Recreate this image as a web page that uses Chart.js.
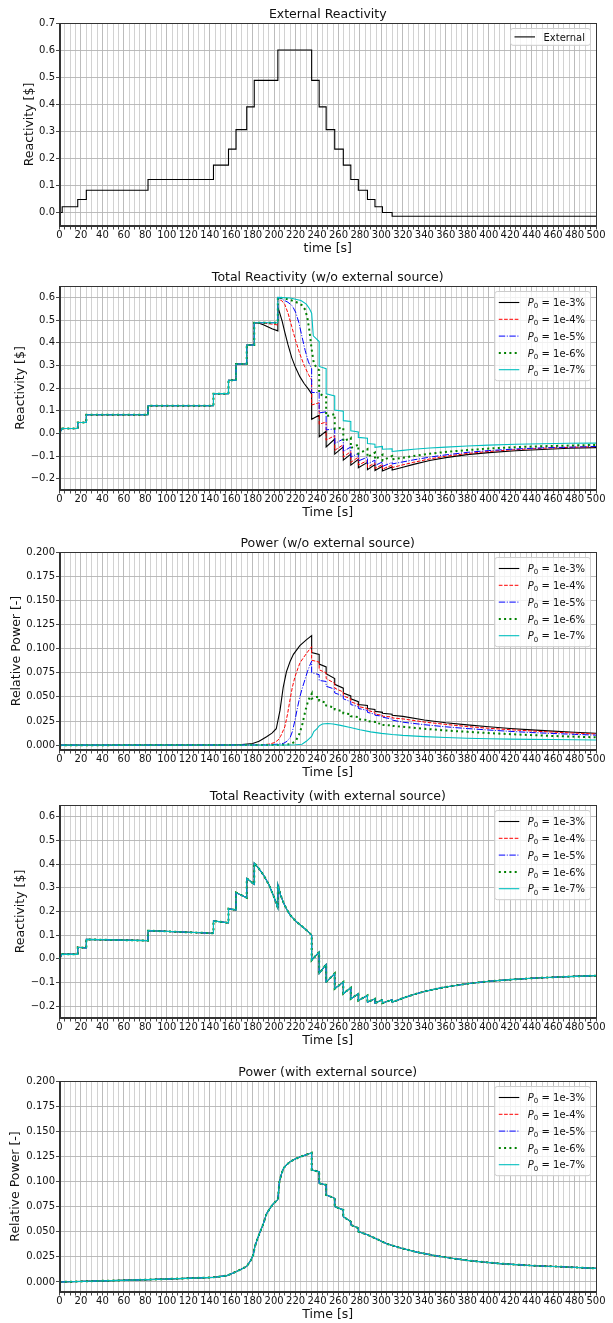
<!DOCTYPE html>
<html>
<head>
<meta charset="utf-8">
<title>Reactivity and power</title>
<script src="https://cdn.jsdelivr.net/npm/chart.js@4.4.1/dist/chart.umd.min.js"></script>
<style>
  html, body { margin: 0; padding: 0; background: #fff; overflow: hidden; }
  body { width: 613px; height: 1323px; position: relative; }
  .panel { position: absolute; left: 0; width: 613px; }
</style>
</head>
<body>
<div class="panel" style="top:5px;height:252px"><canvas id="extChart"></canvas></div>
<div class="panel" style="top:268px;height:253px"><canvas id="rhoNoSrcChart"></canvas></div>
<div class="panel" style="top:534px;height:247px"><canvas id="powNoSrcChart"></canvas></div>
<div class="panel" style="top:787px;height:262px"><canvas id="rhoSrcChart"></canvas></div>
<div class="panel" style="top:1063px;height:260px"><canvas id="powSrcChart"></canvas></div>
<script>
/* ---------------------------------- Ticks --------------------------------- */
const xMajorTicks = [0, 20, 40, 60, 80, 100, 120, 140, 160, 180, 200, 220, 240, 260, 280, 300, 320, 340, 360, 380, 400, 420, 440, 460, 480, 500];
const yTicksExt = [0, 0.1, 0.2, 0.3, 0.4, 0.5, 0.6, 0.7];
const yTicksRho = [-0.2, -0.1, 0, 0.1, 0.2, 0.3, 0.4, 0.5, 0.6];
const yTicksPow = [0, 0.025, 0.05, 0.075, 0.1, 0.125, 0.15, 0.175, 0.2];
const p0Labels = ['1e-3%', '1e-4%', '1e-5%', '1e-6%', '1e-7%'];

/* ----------------------- Panel 1: external reactivity ---------------------- */
const tExt = [0, 2.5, 17, 25, 82.5, 143.5, 157.5, 164.5, 174.5, 181.5, 203.5, 235, 242, 248.5, 256.5, 264.5, 271.5, 278.5, 287, 294, 301, 310, 500];
const rhoExt = [0, 0.021, 0.048, 0.082, 0.122, 0.175, 0.234, 0.306, 0.39, 0.488, 0.6, 0.488, 0.39, 0.306, 0.234, 0.175, 0.122, 0.082, 0.048, 0.021, 0.0, -0.014, -0.014];

/* ---------------- Panel 2: total reactivity, no external source ------------ */
// common part (all five curves follow the external steps up to 181.5 s)
const tPre = [0, 2.5, 17, 17, 25, 25, 82.5, 82.5, 143.5, 143.5, 157.5, 157.5, 164.5, 164.5, 174.5, 174.5, 181.5, 181.5];
const rhoPre = [0, 0.021, 0.021, 0.048, 0.048, 0.082, 0.082, 0.122, 0.122, 0.175, 0.175, 0.234, 0.234, 0.306, 0.306, 0.39, 0.39, 0.488];

const tRho3 = [186, 190, 194, 198, 203.5, 203.5, 205, 207.5, 210, 213, 216.5, 220, 224, 228, 232, 235, 235, 242, 242, 248.5, 248.5, 256.5, 256.5, 264.5, 264.5, 271.5, 271.5, 278.5, 278.5, 287, 287, 294, 294, 301, 301, 310, 310, 320, 330, 345, 360, 380, 400, 425, 450, 475, 500];
const rho3 = [0.486, 0.479, 0.47, 0.461, 0.452, 0.556, 0.535, 0.495, 0.445, 0.39, 0.333, 0.29, 0.25, 0.22, 0.195, 0.174, 0.062, 0.08, -0.015, 0.01, -0.06, -0.025, -0.092, -0.06, -0.118, -0.092, -0.14, -0.115, -0.152, -0.128, -0.16, -0.138, -0.164, -0.145, -0.166, -0.148, -0.162, -0.15, -0.137, -0.12, -0.107, -0.094, -0.085, -0.077, -0.071, -0.066, -0.063];

const tRho4 = [186, 192, 198, 203.5, 203.5, 207, 210, 213, 216.5, 220, 224, 228, 232, 235, 235, 242, 242, 248.5, 248.5, 256.5, 256.5, 264.5, 264.5, 271.5, 271.5, 278.5, 278.5, 287, 287, 294, 294, 301, 301, 310, 310, 320, 330, 345, 360, 380, 400, 425, 450, 475, 500];
const rho4 = [0.487, 0.485, 0.482, 0.478, 0.59, 0.586, 0.568, 0.53, 0.47, 0.41, 0.35, 0.3, 0.26, 0.235, 0.125, 0.135, 0.04, 0.05, -0.03, -0.01, -0.075, -0.05, -0.105, -0.08, -0.128, -0.105, -0.14, -0.12, -0.15, -0.13, -0.155, -0.138, -0.158, -0.14, -0.151, -0.139, -0.128, -0.113, -0.101, -0.089, -0.08, -0.072, -0.066, -0.062, -0.059];

const tRho5 = [203.5, 203.5, 208, 213, 217, 220, 223, 226, 229, 232, 235, 235, 242, 242, 248.5, 248.5, 256.5, 256.5, 264.5, 264.5, 271.5, 271.5, 278.5, 278.5, 287, 287, 294, 294, 301, 301, 310, 310, 320, 330, 345, 360, 380, 400, 425, 450, 475, 500];
const rho5 = [0.488, 0.6, 0.59, 0.578, 0.562, 0.535, 0.49, 0.426, 0.365, 0.315, 0.285, 0.18, 0.18, 0.09, 0.095, 0.015, 0.02, -0.045, -0.025, -0.08, -0.06, -0.105, -0.088, -0.122, -0.105, -0.135, -0.118, -0.142, -0.126, -0.146, -0.128, -0.135, -0.126, -0.117, -0.105, -0.095, -0.084, -0.076, -0.069, -0.064, -0.061, -0.058];

const tRho6 = [203.5, 203.5, 210, 216, 222, 226, 229, 231, 233, 235, 237, 240, 242, 242, 248.5, 248.5, 256.5, 256.5, 264.5, 264.5, 271.5, 271.5, 278.5, 278.5, 287, 287, 294, 294, 301, 301, 310, 310, 320, 330, 345, 360, 380, 400, 425, 450, 475, 500];
const rho6 = [0.488, 0.6, 0.595, 0.587, 0.576, 0.565, 0.545, 0.51, 0.45, 0.37, 0.31, 0.285, 0.278, 0.175, 0.16, 0.075, 0.085, 0.02, 0.025, -0.035, -0.02, -0.065, -0.05, -0.09, -0.07, -0.105, -0.085, -0.115, -0.095, -0.12, -0.1, -0.115, -0.108, -0.1, -0.09, -0.082, -0.074, -0.067, -0.061, -0.057, -0.054, -0.051];

const tRho7 = [203.5, 203.5, 215, 225, 230, 233, 235, 236.5, 242, 242, 248.5, 248.5, 256.5, 256.5, 264.5, 264.5, 271.5, 271.5, 278.5, 278.5, 287, 287, 294, 294, 301, 301, 310, 310, 320, 330, 345, 360, 380, 400, 425, 450, 475, 500];
const rho7 = [0.488, 0.6, 0.597, 0.586, 0.57, 0.55, 0.53, 0.43, 0.405, 0.295, 0.285, 0.174, 0.165, 0.103, 0.098, 0.056, 0.052, 0.011, 0.006, -0.018, -0.022, -0.045, -0.048, -0.062, -0.058, -0.07, -0.068, -0.08, -0.075, -0.07, -0.065, -0.061, -0.056, -0.052, -0.048, -0.046, -0.044, -0.043];

/* -------------------- Panel 3: power, no external source ------------------- */
const tPow3 = [0, 160, 170, 180, 186, 193, 198, 202, 205.5, 208.5, 211.5, 215, 218, 224, 230, 235, 235, 242, 242, 248.5, 248.5, 256.5, 256.5, 264.5, 264.5, 271.5, 271.5, 278.5, 278.5, 287, 287, 294, 294, 301, 301, 310, 310, 320, 340, 360, 380, 400, 420, 440, 460, 480, 500];
const pow3 = [0, 0.0002, 0.0006, 0.0018, 0.004, 0.0087, 0.0125, 0.017, 0.036, 0.06, 0.076, 0.087, 0.094, 0.103, 0.109, 0.1135, 0.096, 0.094, 0.084, 0.081, 0.074, 0.069, 0.063, 0.059, 0.054, 0.051, 0.048, 0.045, 0.042, 0.041, 0.038, 0.037, 0.035, 0.034, 0.033, 0.032, 0.031, 0.0298, 0.026, 0.0232, 0.021, 0.019, 0.0173, 0.0158, 0.0145, 0.0134, 0.0124];

const tPow4 = [0, 185, 195, 200, 203.5, 206, 210, 212.5, 215, 217, 219.5, 222, 224, 227, 230.5, 235, 235, 242, 242, 248.5, 248.5, 256.5, 256.5, 264.5, 264.5, 271.5, 271.5, 278.5, 278.5, 287, 287, 294, 294, 301, 301, 310, 310, 320, 340, 360, 380, 400, 420, 440, 460, 480, 500];
const pow4 = [0, 0.0002, 0.001, 0.0025, 0.005, 0.009, 0.019, 0.032, 0.048, 0.06, 0.071, 0.079, 0.085, 0.09, 0.0955, 0.102, 0.088, 0.086, 0.078, 0.075, 0.069, 0.064, 0.059, 0.055, 0.051, 0.048, 0.045, 0.042, 0.04, 0.038, 0.036, 0.034, 0.032, 0.031, 0.03, 0.0292, 0.0282, 0.0272, 0.024, 0.0215, 0.0193, 0.0175, 0.016, 0.0147, 0.0135, 0.0125, 0.0116];

const tPow5 = [0, 195, 205, 209, 212, 215, 217, 219.5, 222, 224, 226.5, 228.7, 231, 233.4, 235, 235, 242, 242, 248.5, 248.5, 256.5, 256.5, 264.5, 264.5, 271.5, 271.5, 278.5, 278.5, 287, 287, 294, 294, 301, 301, 310, 310, 320, 340, 360, 380, 400, 420, 440, 460, 480, 500];
const pow5 = [0, 0.0002, 0.0012, 0.002, 0.004, 0.008, 0.014, 0.026, 0.04, 0.05, 0.06, 0.0676, 0.076, 0.083, 0.087, 0.075, 0.073, 0.067, 0.066, 0.061, 0.058, 0.054, 0.051, 0.048, 0.045, 0.042, 0.04, 0.038, 0.036, 0.034, 0.032, 0.031, 0.03, 0.029, 0.027, 0.026, 0.0238, 0.0212, 0.019, 0.0172, 0.0157, 0.0143, 0.0131, 0.0121, 0.0112, 0.0104];

const tPow6 = [0, 205, 215, 220, 223, 226, 229, 232, 235, 235, 239, 242, 242, 248.5, 248.5, 256.5, 256.5, 264.5, 264.5, 271.5, 271.5, 278.5, 278.5, 287, 287, 294, 294, 301, 301, 310, 310, 320, 340, 360, 380, 400, 420, 440, 460, 480, 500];
const pow6 = [0, 0.0002, 0.001, 0.004, 0.01, 0.02, 0.035, 0.047, 0.053, 0.048, 0.05, 0.05, 0.046, 0.044, 0.041, 0.039, 0.037, 0.035, 0.033, 0.032, 0.03, 0.029, 0.027, 0.026, 0.025, 0.024, 0.023, 0.022, 0.021, 0.0205, 0.02, 0.019, 0.017, 0.0152, 0.0138, 0.0125, 0.0114, 0.0104, 0.0095, 0.0088, 0.0081];

const tPow7 = [0, 210, 220, 226, 230, 233, 235, 237, 240, 242, 245, 250, 255, 262, 270, 280, 290, 300, 310, 320, 340, 360, 380, 400, 420, 440, 460, 480, 500];
const pow7 = [0, 0.0001, 0.0004, 0.001, 0.004, 0.007, 0.009, 0.014, 0.017, 0.02, 0.022, 0.0225, 0.022, 0.0205, 0.0185, 0.016, 0.0138, 0.0122, 0.011, 0.0101, 0.0088, 0.0079, 0.0072, 0.0067, 0.0063, 0.006, 0.0058, 0.0056, 0.0054];

/* ------------- Panels 4 & 5: with external source (curves overlap) --------- */
const tRhoSrc = [0, 2.5, 17, 17, 25, 25, 82.5, 82.5, 143.5, 143.5, 157.5, 157.5, 164.5, 164.5, 174.5, 174.5, 181.5, 181.5, 186, 190, 195, 200, 203.5, 203.5, 206, 209, 212, 215, 220, 225, 230, 235, 235, 242, 242, 248.5, 248.5, 256.5, 256.5, 264.5, 264.5, 271.5, 271.5, 278.5, 278.5, 287, 287, 294, 294, 301, 301, 310, 310, 315, 320, 330, 340, 350, 360, 380, 400, 420, 440, 460, 480, 500];
const rhoSrc = [0, 0.02, 0.019, 0.049, 0.046, 0.082, 0.077, 0.119, 0.108, 0.16, 0.152, 0.212, 0.206, 0.28, 0.258, 0.34, 0.315, 0.405, 0.38, 0.355, 0.315, 0.26, 0.215, 0.313, 0.27, 0.235, 0.207, 0.185, 0.16, 0.141, 0.122, 0.1, -0.006, 0.029, -0.062, -0.023, -0.098, -0.062, -0.126, -0.098, -0.147, -0.122, -0.169, -0.147, -0.176, -0.155, -0.183, -0.169, -0.187, -0.173, -0.187, -0.173, -0.183, -0.175, -0.166, -0.151, -0.138, -0.128, -0.119, -0.105, -0.095, -0.088, -0.082, -0.078, -0.074, -0.071];

const tPowSrc = [0, 40, 82.5, 118, 143.5, 156, 162, 168, 174.5, 178, 180.6, 182, 184.5, 187, 190, 193, 196, 199.3, 203.5, 205, 207, 209, 212, 215, 220, 225, 230, 235, 235, 242, 242, 248.5, 248.5, 256.5, 256.5, 264.5, 264.5, 271.5, 271.5, 278.5, 278.5, 287, 296, 305, 318, 333, 349, 364, 380, 395, 411, 442, 473, 500];
const powSrc = [0, 0.0011, 0.0023, 0.0036, 0.0046, 0.0063, 0.009, 0.012, 0.0155, 0.021, 0.027, 0.035, 0.043, 0.05, 0.058, 0.068, 0.073, 0.078, 0.082, 0.1, 0.108, 0.1135, 0.117, 0.1197, 0.1225, 0.1248, 0.1266, 0.1286, 0.1114, 0.1098, 0.0982, 0.0966, 0.0866, 0.0833, 0.075, 0.0717, 0.065, 0.06, 0.0568, 0.0536, 0.0502, 0.0469, 0.0426, 0.038, 0.0337, 0.0297, 0.0264, 0.0238, 0.0215, 0.0198, 0.0182, 0.0162, 0.0149, 0.0135];

/* ------------------------------- Styling ---------------------------------- */
Chart.defaults.font.family = "'DejaVu Sans', sans-serif";
Chart.defaults.color = '#111';

const plotLeft = 59.5;
const lineStyles = [
    { borderColor: '#000000', borderWidth: 1.1, borderDash: [] },
    { borderColor: '#ff0000', borderWidth: 1, borderDash: [3.7, 1.6] },
    { borderColor: '#0000ff', borderWidth: 1, borderDash: [6.4, 1.6, 1, 1.6] },
    { borderColor: '#008000', borderWidth: 2, borderDash: [2, 3.3] },
    { borderColor: '#00bfbf', borderWidth: 1.1, borderDash: [] },
];

const pts = (ts, vs) => ts.map((t, i) => ({ x: t, y: vs[i] }));

// all tick positions every 5 s; only the multiples of 20 carry labels
const xAllTicks = [];
for (let v = 0; v <= 500; v += 5) xAllTicks.push(v);

const xScale = (title) => ({
    type: 'linear', min: 0, max: 500,
    afterBuildTicks: (s) => { s.ticks = xAllTicks.map(v => ({ value: v, major: xMajorTicks.includes(v) })) },
    afterFit: (s) => { s.height = 31 },
    ticks: {
        autoSkip: false, maxRotation: 0, minRotation: 0, padding: 0, color: '#111', font: { size: 10 },
        callback: (v) => xMajorTicks.includes(v) ? String(v) : ''
    },
    grid: {
        color: (c) => (c.tick && c.tick.major) ? '#b4b4b4' : '#cdcdcd',
        lineWidth: 0.9, tickLength: 3.5, tickColor: '#333'
    },
    border: { color: '#333', width: 1 },
    title: { display: true, text: title, color: '#111', font: { size: 12.5 }, padding: { top: 0, bottom: 0.8 } }
});

const yScale = (min, max, tickVals, digits, title, titlePad) => ({
    type: 'linear', min, max,
    afterBuildTicks: (s) => { s.ticks = tickVals.map(v => ({ value: v })) },
    afterFit: (s) => { s.width = plotLeft },
    ticks: {
        padding: 1, color: '#111', font: { size: 10 },
        callback: (v) => Number(v).toFixed(digits).replace('-', '\u2212')
    },
    grid: { color: '#b4b4b4', lineWidth: 0.9, tickLength: 3.5, tickColor: '#333' },
    border: { color: '#333', width: 1 },
    title: { display: true, text: title, color: '#111', font: { size: 12.5 }, padding: { top: titlePad, bottom: 0 } }
});

/* ------------------ frame + matplotlib-like legend box -------------------- */
const legendText = (ctx, ds, x, base, draw) => {
    const parts = ds.p0 === undefined
        ? [[ds.label, '10px "DejaVu Sans"', 0]]
        : [['P', 'italic 10px "DejaVu Sans"', 0], ['0', '7px "DejaVu Sans"', 2.2], [' = ' + ds.p0, '10px "DejaVu Sans"', 0]];
    let cx = x;
    parts.forEach(([txt, font, dy]) => {
        ctx.font = font;
        if (draw) ctx.fillText(txt, cx, base + dy);
        cx += ctx.measureText(txt).width;
    });
    return cx - x;
};

const mplDecor = {
    id: 'mplDecor',
    afterDatasetsDraw(chart) {
        const { ctx, chartArea: a } = chart;
        const sets = chart.data.datasets;
        ctx.save();
        // top & right spines
        ctx.strokeStyle = '#333';
        ctx.lineWidth = 1;
        ctx.strokeRect(Math.round(a.left) + 0.5, Math.round(a.top) + 0.5, Math.round(a.right - a.left) - 1, Math.round(a.bottom - a.top) - 1);

        const textW = Math.max(...sets.map(ds => legendText(ctx, ds, 0, 0, false)));
        const w = 33 + textW + 5.5;
        const padY = sets.length > 1 ? 11 : 8.4;
        const rowH = 16.8;
        const h = 2 * padY + (sets.length - 1) * rowH;
        const x0 = a.right - 5.5 - w;
        const y0 = a.top + 5.5;

        ctx.beginPath();
        ctx.roundRect(x0, y0, w, h, 2.5);
        ctx.fillStyle = 'rgba(255,255,255,0.8)';
        ctx.fill();
        ctx.strokeStyle = '#cccccc';
        ctx.stroke();

        sets.forEach((ds, i) => {
            const y = y0 + padY + i * rowH;
            ctx.beginPath();
            ctx.setLineDash(ds.borderDash || []);
            ctx.lineWidth = ds.borderWidth;
            ctx.strokeStyle = ds.borderColor;
            ctx.moveTo(x0 + 4, y);
            ctx.lineTo(x0 + 24.5, y);
            ctx.stroke();
            ctx.setLineDash([]);
            ctx.fillStyle = '#111';
            ctx.textBaseline = 'alphabetic';
            legendText(ctx, ds, x0 + 33, y + 3.6, true);
        });
        ctx.restore();
    }
};

const seriesSets = (times, values) => p0Labels.map((lab, i) => ({
    label: 'P0 = ' + lab,
    p0: lab,
    data: pts(times[i], values[i]),
    ...lineStyles[i],
    order: 4 - i,
    pointRadius: 0
}));

const makeChart = (id, title, datasets, x, y) => new Chart(document.getElementById(id), {
    type: 'line',
    data: { datasets },
    options: {
        responsive: true,
        maintainAspectRatio: false,
        animation: false,
        layout: { padding: { left: 0, right: 17, top: 0, bottom: 0 } },
        elements: { point: { radius: 0 }, line: { tension: 0 } },
        plugins: {
            legend: { display: false },
            tooltip: { enabled: false },
            title: {
                display: true, text: title, fullSize: false, color: '#111',
                font: { size: 12.5, weight: 'normal' }, padding: { top: 2.5, bottom: 0.5 }
            }
        },
        scales: { x, y }
    },
    plugins: [mplDecor]
});

/* ---------------------------------- MAIN ---------------------------------- */
const main = () => {
    makeChart('extChart', 'External Reactivity',
        [{ label: 'External', data: pts(tExt, rhoExt), stepped: true, ...lineStyles[0], pointRadius: 0 }],
        xScale('time [s]'), yScale(-0.05, 0.7, yTicksExt, 1, 'Reactivity [$]', 22.5));

    const rhoTimes = [tRho3, tRho4, tRho5, tRho6, tRho7].map(t => tPre.concat(t));
    const rhoVals = [rho3, rho4, rho5, rho6, rho7].map(v => rhoPre.concat(v));
    makeChart('rhoNoSrcChart', 'Total Reactivity (w/o external source)',
        seriesSets(rhoTimes, rhoVals),
        xScale('Time [s]'), yScale(-0.25, 0.65, yTicksRho, 1, 'Reactivity [$]', 13.2));

    makeChart('powNoSrcChart', 'Power (w/o external source)',
        seriesSets([tPow3, tPow4, tPow5, tPow6, tPow7], [pow3, pow4, pow5, pow6, pow7]),
        xScale('Time [s]'), yScale(-0.005, 0.2, yTicksPow, 3, 'Relative Power [-]', 9.2));

    makeChart('rhoSrcChart', 'Total Reactivity (with external source)',
        seriesSets(p0Labels.map(() => tRhoSrc), p0Labels.map(() => rhoSrc)),
        xScale('Time [s]'), yScale(-0.25, 0.65, yTicksRho, 1, 'Reactivity [$]', 13.2));

    makeChart('powSrcChart', 'Power (with external source)',
        seriesSets(p0Labels.map(() => tPowSrc), p0Labels.map(() => powSrc)),
        xScale('Time [s]'), yScale(-0.01, 0.2, yTicksPow, 3, 'Relative Power [-]', 8.5));
}

main();
</script>
</body>
</html>
